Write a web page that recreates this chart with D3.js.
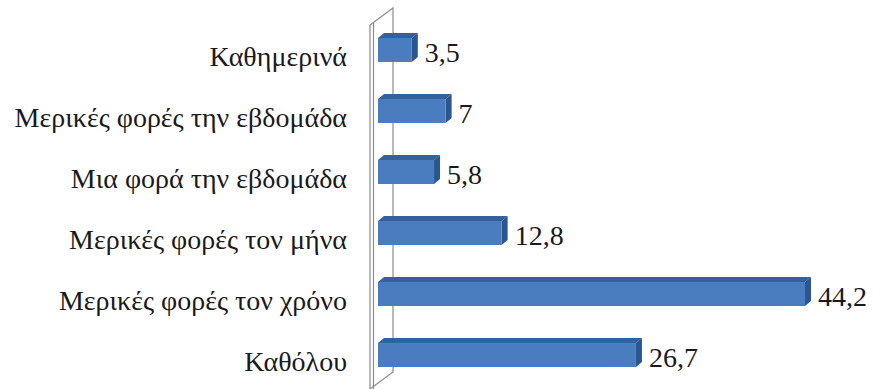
<!DOCTYPE html>
<html>
<head>
<meta charset="utf-8">
<script src="https://cdn.jsdelivr.net/npm/d3@7"></script>
<style>
  html, body { margin: 0; padding: 0; background: #ffffff; }
  svg { display: block; }
  svg text { font-family: "Liberation Serif", "Times New Roman", Tinos, serif !important; }
</style>
</head>
<body>
<svg id="chart" width="873" height="389"></svg>
<script>
const categories = [
  "Καθημερινά",
  "Μερικές φορές την εβδομάδα",
  "Μια φορά την εβδομάδα",
  "Μερικές φορές τον μήνα",
  "Μερικές φορές τον χρόνο",
  "Καθόλου"
];
const values = [3.5, 7, 5.8, 12.8, 44.2, 26.7];
const valueLabels = ["3,5", "7", "5,8", "12,8", "44,2", "26,7"];

const FONT = '"Liberation Serif"';
const svg = d3.select("#chart");

const x0 = 378;
const x = d3.scaleLinear().domain([0, 44.2]).range([x0, 805]);
const y = d3.scaleBand().domain(categories).range([20, 385])
  .paddingInner(0.607).paddingOuter(0.295);

const dx = 6, dy = -5;   // 3D depth offset

// side wall (3D)
const wall = svg.append("g").attr("fill", "none").attr("stroke", "#8c8c8c").attr("stroke-width", 1.2);
wall.append("path").attr("d", "M370,25 L393,8 L393,372 L370,389");
wall.append("line").attr("x1", 370).attr("y1", 25).attr("x2", 370).attr("y2", 389);
wall.append("line").attr("x1", 373.5).attr("y1", 23).attr("x2", 373.5).attr("y2", 389);

// bars
const bars = svg.append("g").selectAll("g").data(categories).join("g");

bars.append("path") // top face
  .attr("d", (c, i) => {
    const yt = y(c), xr = x(values[i]);
    return `M${x0},${yt} L${x0 + dx},${yt + dy} L${xr + dx},${yt + dy} L${xr},${yt} Z`;
  })
  .attr("fill", "#34619c");

bars.append("path") // right face
  .attr("d", (c, i) => {
    const yt = y(c), yb = yt + y.bandwidth(), xr = x(values[i]);
    return `M${xr},${yt} L${xr + dx},${yt + dy} L${xr + dx},${yb + dy} L${xr},${yb} Z`;
  })
  .attr("fill", "#2b5690");

bars.append("rect") // front face
  .attr("x", x0)
  .attr("y", c => y(c))
  .attr("width", (c, i) => x(values[i]) - x0)
  .attr("height", y.bandwidth())
  .attr("fill", "#4a7cc0");

// value labels
bars.append("text")
  .attr("x", (c, i) => x(values[i]) + dx + 7)
  .attr("y", c => y(c) + y.bandwidth() / 2 + 12)
  .style("font-family", FONT, "important")
  .style("font-size", "28px")
  .style("fill", "#1a1a1a")
  .text((c, i) => valueLabels[i]);

// category labels
svg.append("g").selectAll("text").data(categories).join("text")
  .attr("x", 347)
  .attr("y", c => y(c) + y.bandwidth() / 2 + 16)
  .attr("text-anchor", "end")
  .style("font-family", FONT, "important")
  .style("font-size", "28px")
  .style("fill", "#1a1a1a")
  .text(c => c);
</script>
</body>
</html>
